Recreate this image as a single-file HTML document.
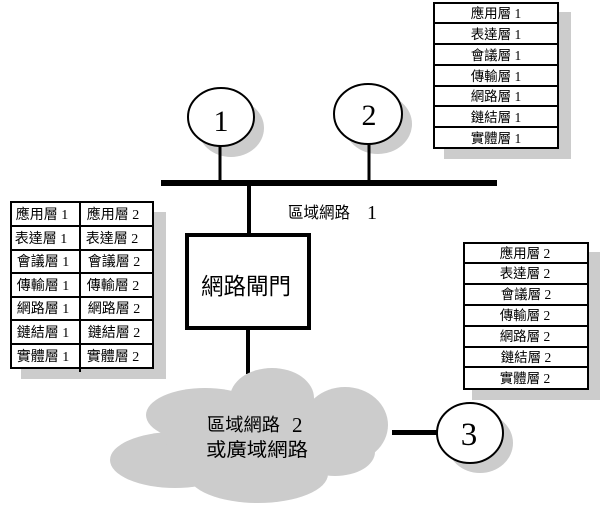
<!DOCTYPE html>
<html>
<head>
<meta charset="utf-8">
<style>
  html,body{margin:0;padding:0;background:#fff;}
  svg{display:block;}
  .cjk{font-family:"Liberation Sans","Noto Sans CJK TC",sans-serif;}
  .ser{font-family:"Liberation Serif","Noto Serif CJK SC",serif;}
  .t{font-family:"Liberation Serif","Noto Sans CJK TC",sans-serif;font-size:13.5px;}
  .tl{font-family:"Liberation Serif","Noto Sans CJK TC",sans-serif;font-size:14px;}
</style>
</head>
<body>
<svg width="600" height="505" viewBox="0 0 600 505" xmlns="http://www.w3.org/2000/svg">
  <rect x="0" y="0" width="600" height="505" fill="#fff"/>

  <!-- shadows -->
  <rect x="444" y="12" width="127" height="147" fill="#cccccc"/>
  <rect x="21" y="212" width="145" height="167" fill="#cccccc"/>
  <rect x="472" y="252" width="128" height="148" fill="#cccccc"/>
  <ellipse cx="231" cy="128" rx="33" ry="29" fill="#cccccc"/>
  <ellipse cx="378" cy="124" rx="34" ry="30" fill="#cccccc"/>
  <ellipse cx="480" cy="443" rx="33" ry="30" fill="#cccccc"/>

  <!-- top-right table -->
  <g stroke="#000" stroke-width="2" fill="#fff">
    <rect x="434" y="3" width="124" height="145"/>
    <line x1="434" y1="23" x2="558" y2="23"/>
    <line x1="434" y1="44" x2="558" y2="44"/>
    <line x1="434" y1="65" x2="558" y2="65"/>
    <line x1="434" y1="86" x2="558" y2="86"/>
    <line x1="434" y1="106" x2="558" y2="106"/>
    <line x1="434" y1="127" x2="558" y2="127"/>
  </g>
  <g class="t" text-anchor="middle" fill="#000">
    <text x="496" y="18">應用層 1</text>
    <text x="496" y="39">表達層 1</text>
    <text x="496" y="60">會議層 1</text>
    <text x="496" y="81">傳輸層 1</text>
    <text x="496" y="101">網路層 1</text>
    <text x="496" y="122">鏈結層 1</text>
    <text x="496" y="143">實體層 1</text>
  </g>

  <!-- left table -->
  <g stroke="#000" stroke-width="2" fill="#fff">
    <rect x="11" y="202" width="142" height="166"/>
    <line x1="80" y1="202" x2="80" y2="372"/>
    <line x1="11" y1="226" x2="153" y2="226"/>
    <line x1="11" y1="250" x2="153" y2="250"/>
    <line x1="11" y1="273" x2="153" y2="273"/>
    <line x1="11" y1="297" x2="153" y2="297"/>
    <line x1="11" y1="320" x2="153" y2="320"/>
    <line x1="11" y1="344" x2="153" y2="344"/>
  </g>
  <g class="tl" text-anchor="middle" fill="#000">
    <text x="42" y="219">應用層 1</text>
    <text x="41" y="243">表達層 1</text>
    <text x="43" y="266">會議層 1</text>
    <text x="43" y="290">傳輸層 1</text>
    <text x="43" y="313">網路層 1</text>
    <text x="43" y="337">鏈結層 1</text>
    <text x="43" y="361">實體層 1</text>
    <text x="113" y="219">應用層 2</text>
    <text x="112" y="243">表達層 2</text>
    <text x="114" y="266">會議層 2</text>
    <text x="113" y="290">傳輸層 2</text>
    <text x="114" y="313">網路層 2</text>
    <text x="114" y="337">鏈結層 2</text>
    <text x="113" y="361">實體層 2</text>
  </g>

  <!-- right table 2 -->
  <g stroke="#000" stroke-width="2" fill="#fff">
    <rect x="464" y="243" width="124" height="146"/>
    <line x1="464" y1="263" x2="588" y2="263"/>
    <line x1="464" y1="284" x2="588" y2="284"/>
    <line x1="464" y1="305" x2="588" y2="305"/>
    <line x1="464" y1="326" x2="588" y2="326"/>
    <line x1="464" y1="347" x2="588" y2="347"/>
    <line x1="464" y1="367" x2="588" y2="367"/>
  </g>
  <g class="t" text-anchor="middle" fill="#000">
    <text x="525" y="258">應用層 2</text>
    <text x="525" y="278">表達層 2</text>
    <text x="526" y="299">會議層 2</text>
    <text x="525" y="320">傳輸層 2</text>
    <text x="525" y="341">網路層 2</text>
    <text x="526" y="362">鏈結層 2</text>
    <text x="525" y="383">實體層 2</text>
  </g>

  <!-- bus and stems -->
  <rect x="161" y="180" width="336" height="6" fill="#000"/>
  <rect x="218.5" y="144" width="3" height="38" fill="#000"/>
  <rect x="367.5" y="143" width="3" height="39" fill="#000"/>
  <rect x="247" y="184" width="4" height="50" fill="#000"/>
  <rect x="246" y="328" width="4" height="46" fill="#000"/>

  <!-- circles -->
  <ellipse cx="221" cy="117" rx="33" ry="29" fill="#fff" stroke="#000" stroke-width="2"/>
  <ellipse cx="368" cy="114" rx="34" ry="30" fill="#fff" stroke="#000" stroke-width="2"/>
  <text class="ser" x="221" y="131" font-size="30" text-anchor="middle">1</text>
  <text class="ser" x="369" y="125" font-size="30" text-anchor="middle">2</text>

  <!-- LAN 1 label -->
  <text class="cjk" x="288" y="218" font-size="16" textLength="62" lengthAdjust="spacingAndGlyphs">區域網路</text>
  <text class="ser" x="367" y="219" font-size="20">1</text>

  <!-- gateway -->
  <rect x="187" y="235" width="122" height="93" fill="#fff" stroke="#000" stroke-width="4"/>
  <text class="cjk" x="201" y="294" font-size="23" textLength="90" lengthAdjust="spacingAndGlyphs">網路閘門</text>

  <!-- cloud -->
  <g fill="#cccccc">
    <ellipse cx="272" cy="398" rx="42" ry="30"/>
    <ellipse cx="345" cy="425" rx="43" ry="38"/>
    <ellipse cx="205" cy="415" rx="59" ry="27"/>
    <ellipse cx="175" cy="460" rx="65" ry="28"/>
    <ellipse cx="258" cy="474" rx="70" ry="29"/>
    <ellipse cx="260" cy="437" rx="95" ry="45"/>
    <ellipse cx="335" cy="452" rx="40" ry="24"/>
  </g>
  <text class="cjk" x="207" y="431" font-size="18" textLength="73" lengthAdjust="spacingAndGlyphs">區域網路</text>
  <text class="ser" x="292" y="432" font-size="21">2</text>
  <text class="cjk" x="206" y="456" font-size="19" textLength="102" lengthAdjust="spacingAndGlyphs">或廣域網路</text>

  <!-- WAN to node 3 -->
  <rect x="392" y="430" width="46" height="5" fill="#000"/>
  <ellipse cx="470" cy="433" rx="33" ry="30" fill="#fff" stroke="#000" stroke-width="2"/>
  <text class="ser" x="469" y="445" font-size="33" text-anchor="middle">3</text>
</svg>
</body>
</html>
